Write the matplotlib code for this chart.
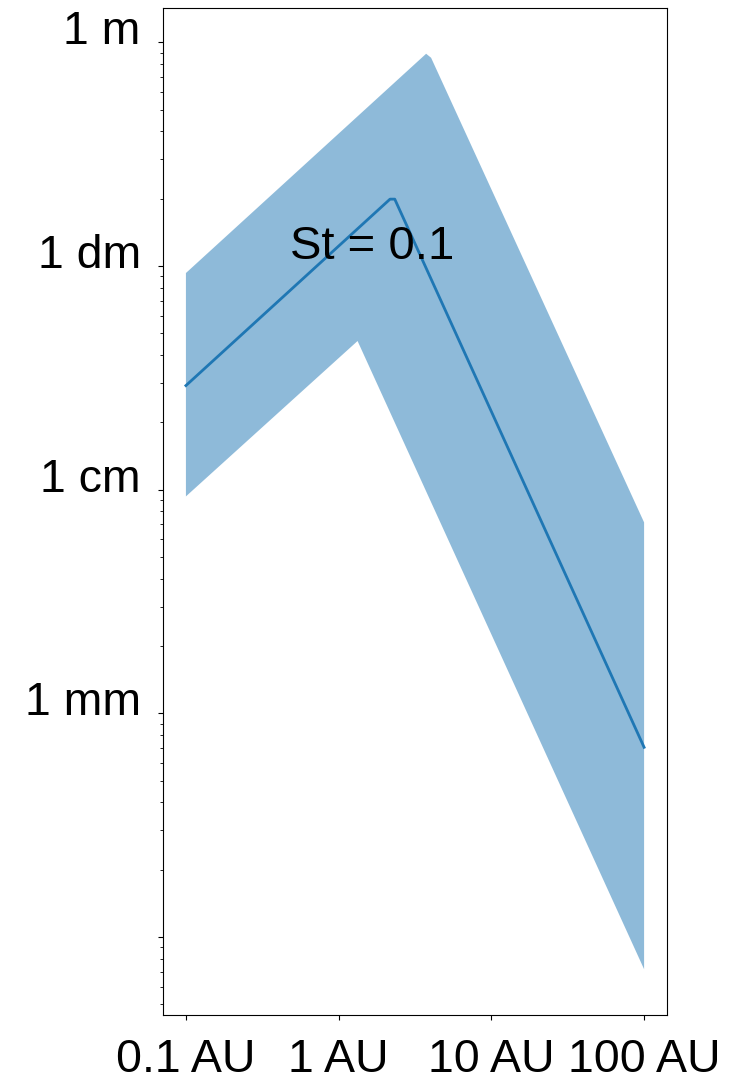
import numpy as np
import matplotlib
matplotlib.use("Agg")
import matplotlib.pyplot as plt

plt.rcParams['font.family'] = ['Liberation Sans', 'DejaVu Sans']

# Orbital distance (AU) and particle size (m) for St = 0.1
line_r = [0.1, 2.17, 2.33, 100.0]
line_size = [0.0292, 0.199, 0.199, 7.05e-4]

# Upper and lower envelopes of the size range
upper_r = [0.1, 3.74, 4.03, 100.0]
upper_size = [0.093, 0.889, 0.853, 7.14e-3]
lower_r = [0.1, 1.33, 100.0]
lower_size = [9.33e-3, 0.0462, 7.18e-5]

x_ticks = [0.1, 1, 10, 100]
x_labels = ['0.1 AU', '1 AU', '10 AU', '100 AU']
y_ticks = [1e-4, 1e-3, 1e-2, 1e-1, 1]
y_labels = ['', '1 mm', '1 cm', '1 dm', '1 m']

fig = plt.figure(figsize=(7.32, 10.77), dpi=100)
ax = fig.add_axes([0.2227, 0.0576, 0.6885, 0.935])
ax.set_xscale('log')
ax.set_yscale('log')

poly_x = np.concatenate([upper_r, lower_r[::-1]])
poly_y = np.concatenate([upper_size, lower_size[::-1]])
ax.fill(poly_x, poly_y, color='C0', alpha=0.5, linewidth=0)
ax.plot(line_r, line_size, color='C0', lw=2)

ax.text(0.48, 0.107, 'St = 0.1', fontsize=34, va='baseline', ha='left')

ax.set_xticks(x_ticks)
ax.set_xticklabels(x_labels)
ax.set_yticks(y_ticks)
ax.set_yticklabels(y_labels)
ax.tick_params(axis='x', which='major', labelsize=33.5, pad=13)
ax.tick_params(axis='y', which='major', labelsize=33.5, pad=12.5)
for lab in ax.get_yticklabels():
    lab.set_va('baseline')
    lab.set_y(lab.get_position()[1])

# nudge y labels so their baseline sits just below the tick
from matplotlib.transforms import ScaledTranslation
offset = ScaledTranslation(0, -2 / 100, fig.dpi_scale_trans)
for lab in ax.get_yticklabels():
    lab.set_transform(lab.get_transform() + offset)

fig.savefig('out.png', dpi=100)
